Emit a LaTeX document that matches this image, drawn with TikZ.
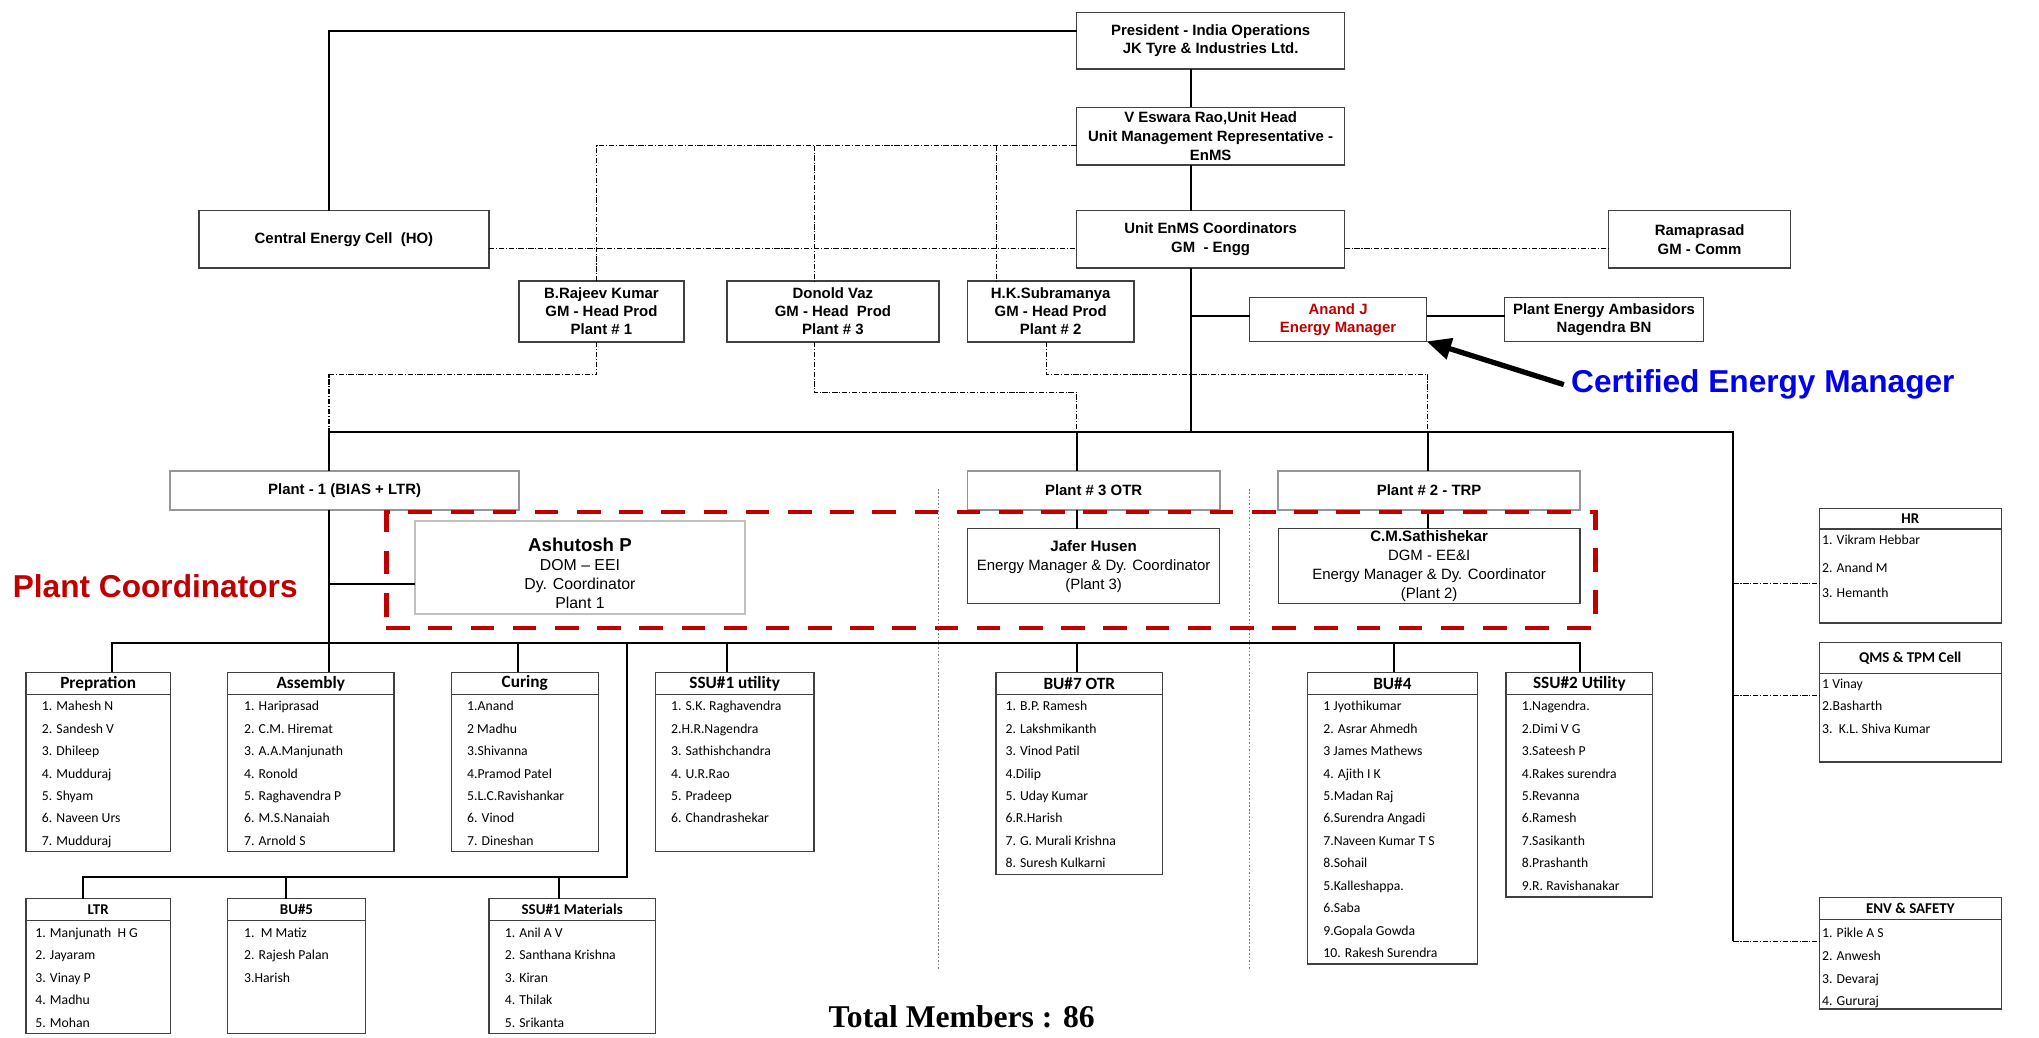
\documentclass[tikz,border=0pt]{standalone}
\usepackage{fontspec}
\setmainfont{Liberation Sans}
\newfontfamily\calibrifont{Carlito}
\newfontfamily\timesfont{Liberation Serif}
\usetikzlibrary{arrows.meta}

\definecolor{cemred}{RGB}{192,0,0}
\definecolor{cemblue}{RGB}{0,0,240}
\definecolor{boxline}{RGB}{64,64,64}
\definecolor{softline}{RGB}{150,150,150}

\tikzset{
	spot/.style n args={4}{minimum width={(#3-#1)*0.026cm}, minimum height={(#4-#2)*0.026cm}, at={({(#1+#3)/2},{(#2+#4)/2})}},
	box/.style={draw=boxline, line width=0.75pt, inner sep=0pt, outer sep=0pt, align=center, font=\bfseries\fontsize{8.5}{10.7}\selectfont},
	plantbox/.style={box, draw=softline, line width=1pt},
	lbox/.style={draw=boxline, line width=0.75pt, inner sep=0pt, outer sep=0pt},
	lhead/.style={inner sep=0pt, outer sep=0pt, anchor=north, font=\calibrifont\bfseries\fontsize{9.8}{12}\selectfont},
	lheadsmall/.style={lhead, font=\calibrifont\bfseries\fontsize{8.5}{10}\selectfont},
	item/.style={inner sep=0pt, anchor=base west, font=\calibrifont\fontsize{7.8}{10}\selectfont},
	link/.style={line width=1.1pt},
	looseline/.style={line width=0.6pt, dash pattern=on 3pt off 1pt on 0.6pt off 1pt},
	divider/.style={gray, line width=0.4pt, dash pattern=on 1pt off 1pt},
	coordframe/.style={draw=cemred, line width=2.7pt, dash pattern=on 13.4pt off 10.6pt, inner sep=0pt},
	cemarrow/.style={line width=3pt, -{Triangle[length=14pt,width=12pt]}}
}

\begin{document}
\begin{tikzpicture}[x=0.026cm, y=-0.026cm]

	\useasboundingbox (0,0) rectangle (1568,798);

	% management boxes
	\node[box, spot={828}{9.5}{1034}{53}] (pres) {President - India Operations\\JK Tyre \& Industries Ltd.};
	\node[box, spot={828}{82.5}{1034}{127}] (veswara) {V Eswara Rao,Unit Head\\Unit Management Representative -\\EnMS};
	\node[box, spot={828}{162}{1034}{206}] (enms) {Unit EnMS Coordinators\\GM\ \ - Engg};
	\node[box, spot={153}{162}{376}{206}] (central) {Central Energy Cell\ \ (HO)};
	\node[box, spot={1237}{162}{1377}{206}] (rama) {Ramaprasad\\GM - Comm};

	\node[box, spot={399}{216}{526}{263}, font=\bfseries\fontsize{8.5}{10.3}\selectfont] (rajeev) {B.Rajeev Kumar\\GM - Head Prod\\Plant \# 1};
	\node[box, spot={559}{216}{722}{263}, font=\bfseries\fontsize{8.5}{10.3}\selectfont] (donold) {Donold Vaz\\GM - Head\ \ Prod\\Plant \# 3};
	\node[box, spot={744}{216}{872}{263}, font=\bfseries\fontsize{8.5}{10.3}\selectfont] (hks) {H.K.Subramanya\\GM - Head Prod\\Plant \# 2};

	\node[box, spot={961}{229}{1097}{262.5}, text=cemred] (anand) {Anand J\\Energy Manager};
	\node[box, spot={1157}{229}{1310}{262.5}] (amb) {Plant Energy Ambasidors\\Nagendra BN};

	% plants
	\node[plantbox, spot={131}{362}{399}{392}] (plant1) {Plant - 1 (BIAS + LTR)};
	\node[plantbox, spot={744}{362}{938}{392}] (plant3) {Plant \# 3 OTR};
	\node[plantbox, spot={983}{362}{1215}{392}] (plant2) {Plant \# 2 - TRP};

	% plant coordinators
	\node[box, draw=softline!60, line width=1.2pt, spot={319}{400.5}{573}{472}] (ashu) {};
	\node[inner sep=0pt, align=center, font=\fontsize{9}{10.8}\selectfont] (ashu-t) at (446,440.7) {{\bfseries\fontsize{10.6}{12}\selectfont Ashutosh P}\\DOM – EEI\\Dy. Coordinator\\Plant 1};
	\node[box, spot={744}{406.6}{938}{464.3}, font=\fontsize{8.5}{10.9}\selectfont] (jafer) {{\bfseries\fontsize{8.6}{10}\selectfont Jafer Husen}\\Energy Manager \& Dy. Coordinator\\(Plant 3)};
	\node[box, spot={983}{406.6}{1215}{464.3}, font=\fontsize{8.5}{10.9}\selectfont] (cms) {{\bfseries\fontsize{8.6}{10}\selectfont C.M.Sathishekar}\\DGM - EE\&I\\Energy Manager \& Dy. Coordinator\\(Plant 2)};

	% list boxes
	\node[lbox, spot={20}{517}{131}{655}] (prep) {};
	\node[lbox, spot={175}{517}{303}{655}] (asm) {};
	\node[lbox, spot={347}{517}{460}{655}] (curing) {};
	\node[lbox, spot={504}{517}{626}{655}] (ssu1u) {};
	\node[lbox, spot={766}{517}{894}{672.4}] (bu7) {};
	\node[lbox, spot={1005.5}{517}{1136}{741.3}] (bu4) {};
	\node[lbox, spot={1158}{517}{1271}{689.7}] (ssu2) {};
	\node[lbox, spot={20}{691}{131}{795}] (ltr) {};
	\node[lbox, spot={175}{691}{281}{795}] (bu5) {};
	\node[lbox, spot={376}{691}{504}{795}] (ssu1m) {};
	\node[lbox, spot={1399}{391}{1539}{479}] (hr) {};
	\node[lbox, spot={1399}{494}{1539}{586}] (qms) {};
	\node[lbox, spot={1399}{690}{1539}{776}] (env) {};

	\node[lhead, minimum height={17*0.026cm}] (prep-h) at (prep.north) {Prepration};
	\node[lhead, minimum height={17*0.026cm}] (asm-h) at (asm.north) {Assembly};
	\node[lhead, minimum height={17*0.026cm}] (curing-h) at (curing.north) {Curing};
	\node[lhead, minimum height={17*0.026cm}] (ssu1u-h) at (ssu1u.north) {SSU\#1 utility};
	\node[lhead, minimum height={17*0.026cm}] (bu7-h) at (bu7.north) {BU\#7 OTR};
	\node[lhead, minimum height={17*0.026cm}] (bu4-h) at (bu4.north) {BU\#4};
	\node[lhead, minimum height={17*0.026cm}] (ssu2-h) at (ssu2.north) {SSU\#2 Utility};
	\node[lheadsmall, minimum height={17*0.026cm}] (ltr-h) at (ltr.north) {LTR};
	\node[lheadsmall, minimum height={17*0.026cm}] (bu5-h) at (bu5.north) {BU\#5};
	\node[lheadsmall, minimum height={17*0.026cm}] (ssu1m-h) at (ssu1m.north) {SSU\#1 Materials};
	\node[lheadsmall, minimum height={15.8*0.026cm}] (hr-h) at (hr.north) {HR};
	\node[lheadsmall, minimum height={24*0.026cm}] (qms-h) at (qms.north) {QMS \& TPM Cell};
	\node[lheadsmall, minimum height={17.2*0.026cm}] (env-h) at (env.north) {ENV \& SAFETY};

	\draw[boxline, line width=0.75pt] (prep-h.south -| prep.west) -- (prep-h.south -| prep.east);
	\draw[boxline, line width=0.75pt] (asm-h.south -| asm.west) -- (asm-h.south -| asm.east);
	\draw[boxline, line width=0.75pt] (curing-h.south -| curing.west) -- (curing-h.south -| curing.east);
	\draw[boxline, line width=0.75pt] (ssu1u-h.south -| ssu1u.west) -- (ssu1u-h.south -| ssu1u.east);
	\draw[boxline, line width=0.75pt] (bu7-h.south -| bu7.west) -- (bu7-h.south -| bu7.east);
	\draw[boxline, line width=0.75pt] (bu4-h.south -| bu4.west) -- (bu4-h.south -| bu4.east);
	\draw[boxline, line width=0.75pt] (ssu2-h.south -| ssu2.west) -- (ssu2-h.south -| ssu2.east);
	\draw[boxline, line width=0.75pt] (ltr-h.south -| ltr.west) -- (ltr-h.south -| ltr.east);
	\draw[boxline, line width=0.75pt] (bu5-h.south -| bu5.west) -- (bu5-h.south -| bu5.east);
	\draw[boxline, line width=0.75pt] (ssu1m-h.south -| ssu1m.west) -- (ssu1m-h.south -| ssu1m.east);
	\draw[boxline, line width=0.75pt] (hr-h.south -| hr.west) -- (hr-h.south -| hr.east);
	\draw[boxline, line width=0.75pt] (qms-h.south -| qms.west) -- (qms-h.south -| qms.east);
	\draw[boxline, line width=0.75pt] (env-h.south -| env.west) -- (env-h.south -| env.east);

	% members
	\foreach \t [count=\i] in {1. Mahesh N, 2. Sandesh V, 3. Dhileep, 4. Mudduraj, 5. Shyam, 6. Naveen Urs, 7. Mudduraj}
		\node[item] (prep-\i) at (32,{546.5+17.27*(\i-1)}) {\t};
	\foreach \t [count=\i] in {1. Hariprasad, 2. C.M. Hiremat, 3. A.A.Manjunath, 4. Ronold, 5. Raghavendra P, 6. M.S.Nanaiah, 7. Arnold S}
		\node[item] (asm-\i) at (187.5,{546.5+17.27*(\i-1)}) {\t};
	\foreach \t [count=\i] in {1.Anand, 2 Madhu, 3.Shivanna, 4.Pramod Patel, 5.L.C.Ravishankar, 6. Vinod, 7. Dineshan}
		\node[item] (curing-\i) at (359,{546.5+17.27*(\i-1)}) {\t};
	\foreach \t [count=\i] in {1. S.K. Raghavendra, 2.H.R.Nagendra, 3. Sathishchandra, 4. U.R.Rao, 5. Pradeep, 6. Chandrashekar}
		\node[item] (ssu1u-\i) at (515.8,{546.5+17.27*(\i-1)}) {\t};
	\foreach \t [count=\i] in {1. B.P. Ramesh, 2. Lakshmikanth, 3. Vinod Patil, 4.Dilip, 5. Uday Kumar, 6.R.Harish, 7. G. Murali Krishna, 8. Suresh Kulkarni}
		\node[item] (bu7-\i) at (773,{546.5+17.27*(\i-1)}) {\t};
	\foreach \t [count=\i] in {1 Jyothikumar, 2. Asrar Ahmedh, 3 James Mathews, 4. Ajith I K, 5.Madan Raj, 6.Surendra Angadi, 7.Naveen Kumar T S, 8.Sohail, 5.Kalleshappa., 6.Saba, 9.Gopala Gowda, 10. Rakesh Surendra}
		\node[item] (bu4-\i) at (1017.4,{546.5+17.27*(\i-1)}) {\t};
	\foreach \t [count=\i] in {1.Nagendra., 2.Dimi V G, 3.Sateesh P, 4.Rakes surendra, 5.Revanna, 6.Ramesh, 7.Sasikanth, 8.Prashanth, 9.R. Ravishanakar}
		\node[item] (ssu2-\i) at (1170,{546.5+17.27*(\i-1)}) {\t};
	\foreach \t [count=\i] in {1. Manjunath\ \ H G, 2. Jayaram, 3. Vinay P, 4. Madhu, 5. Mohan}
		\node[item] (ltr-\i) at (27,{720.8+17.27*(\i-1)}) {\t};
	\foreach \t [count=\i] in {1.\ \ M Matiz, 2. Rajesh Palan, 3.Harish}
		\node[item] (bu5-\i) at (187.5,{720.8+17.27*(\i-1)}) {\t};
	\foreach \t [count=\i] in {1. Anil A V, 2. Santhana Krishna, 3. Kiran, 4. Thilak, 5. Srikanta}
		\node[item] (ssu1m-\i) at (388,{720.8+17.27*(\i-1)}) {\t};
	\foreach \t/\y [count=\i] in {1. Vikram Hebbar/418.8, 2. Anand M/440.1, 3. Hemanth/459.2}
		\node[item] (hr-\i) at (1401,\y) {\t};
	\foreach \t [count=\i] in {1 Vinay, 2.Basharth, 3.\ \ K.L. Shiva Kumar}
		\node[item] (qms-\i) at (1401,{529.2+17.3*(\i-1)}) {\t};
	\foreach \t [count=\i] in {1. Pikle A S, 2. Anwesh, 3. Devaraj, 4. Gururaj}
		\node[item] (env-\i) at (1401,{720.8+17.6*(\i-1)}) {\t};

	% route points
	\coordinate (tl) at (253,24);
	\coordinate (sp) at (916,0);
	\coordinate (aj) at (916,243);
	\coordinate (busL) at (253,332);
	\coordinate (busR) at (1333,332);
	\coordinate (p3) at (828,0);
	\coordinate (p2) at (1098,0);
	\coordinate (ashj) at (253,449);
	\coordinate (sbL) at (86,494.5);
	\coordinate (sbR) at (1215,494.5);
	\coordinate (cud) at (398,494.5);
	\coordinate (s1d) at (559,494.5);
	\coordinate (b7d) at (828,494.5);
	\coordinate (b4d) at (1072,494.5);
	\coordinate (smd) at (482,494.5);
	\coordinate (mbR) at (482,674.6);
	\coordinate (mbL) at (64,674.6);
	\coordinate (b5d) at (220,674.6);
	\coordinate (smmd) at (430,674.6);
	\coordinate (hrj) at (1333,449);
	\coordinate (qmsj) at (1333,535);
	\coordinate (envj) at (1333,724);
	\coordinate (dl) at (0,191);
	\coordinate (vr) at (459,112);
	\coordinate (vd) at (626,112);
	\coordinate (vh) at (766,112);
	\coordinate (rk) at (459,288);
	\coordinate (dv) at (626,302);
	\coordinate (hk) at (805,288);

	% solid reporting lines
	\draw[link] (pres.west |- tl) -- (tl) -- (tl |- central.north);
	\draw[link] (pres.south -| sp) -- (veswara.north -| sp);
	\draw[link] (veswara.south -| sp) -- (enms.north -| sp);
	\draw[link] (enms.south -| sp) -- (sp |- busL);
	\draw[link] (aj) -- (anand.west |- aj);
	\draw[link] (anand.east |- aj) -- (amb.west |- aj);
	\draw[link] (busL |- plant1.north) -- (busL) -- (busR) -- (envj);
	\draw[link] (p3 |- busL) -- (p3 |- plant3.north);
	\draw[link] (p2 |- busL) -- (p2 |- plant2.north);
	\draw[link] (plant1.south -| busL) -- (asm.north -| busL);
	\draw[link] (ashj) -- (ashu.west |- ashj);
	\draw[link] (plant3.south -| p3) -- (jafer.north -| p3);
	\draw[link] (plant2.south -| p2) -- (cms.north -| p2);
	\draw[link] (sbL |- prep.north) -- (sbL) -- (sbR) -- (sbR |- ssu2.north);
	\draw[link] (cud) -- (cud |- curing.north);
	\draw[link] (s1d) -- (s1d |- ssu1u.north);
	\draw[link] (b7d) -- (b7d |- bu7.north);
	\draw[link] (b4d) -- (b4d |- bu4.north);
	\draw[link] (smd) -- (mbR) -- (mbL) -- (mbL |- ltr.north);
	\draw[link] (b5d) -- (b5d |- bu5.north);
	\draw[link] (smmd) -- (smmd |- ssu1m.north);

	% dotted links
	\draw[looseline] (central.east |- dl) -- (enms.west |- dl);
	\draw[looseline] (enms.east |- dl) -- (rama.west |- dl);
	\draw[looseline] (veswara.west |- vr) -- (vr) -- (vr |- rajeev.north);
	\draw[looseline] (vd) -- (vd |- donold.north);
	\draw[looseline] (vh) -- (vh |- hks.north);
	\draw[looseline] (rajeev.south -| rk) -- (rk) -- (busL |- rk) -- (busL);
	\draw[looseline] (donold.south -| dv) -- (dv) -- (p3 |- dv) -- (p3 |- busL);
	\draw[looseline] (hks.south -| hk) -- (hk) -- (p2 |- hk) -- (p2 |- busL);
	\draw[looseline] (hrj) -- (hr.west |- hrj);
	\draw[looseline] (qmsj) -- (qms.west |- qmsj);
	\draw[looseline] (envj) -- (env.west |- envj);

	\draw[divider] (721.5,376) -- (721.5,745);
	\draw[divider] (960.5,376) -- (960.5,745);

	% highlights
	\node[coordframe, spot={297}{393.8}{1227}{483}] (frame) {};
	\node[anchor=base west, inner sep=0pt, text=cemred, font=\bfseries\fontsize{18}{20}\selectfont] (pc) at (9.6,459.6) {Plant Coordinators};
	\node[anchor=base west, inner sep=0pt, text=cemblue, font=\bfseries\fontsize{18}{20}\selectfont] (cem) at (1208,302) {Certified Energy Manager};
	\draw[cemarrow] ([xshift=-4pt]cem.west) -- (anand.south east);

	\node[anchor=base west, inner sep=0pt, font=\timesfont\bfseries\fontsize{18}{20}\selectfont] (total) at (637,790) {Total Members : 86};

\end{tikzpicture}
\end{document}
